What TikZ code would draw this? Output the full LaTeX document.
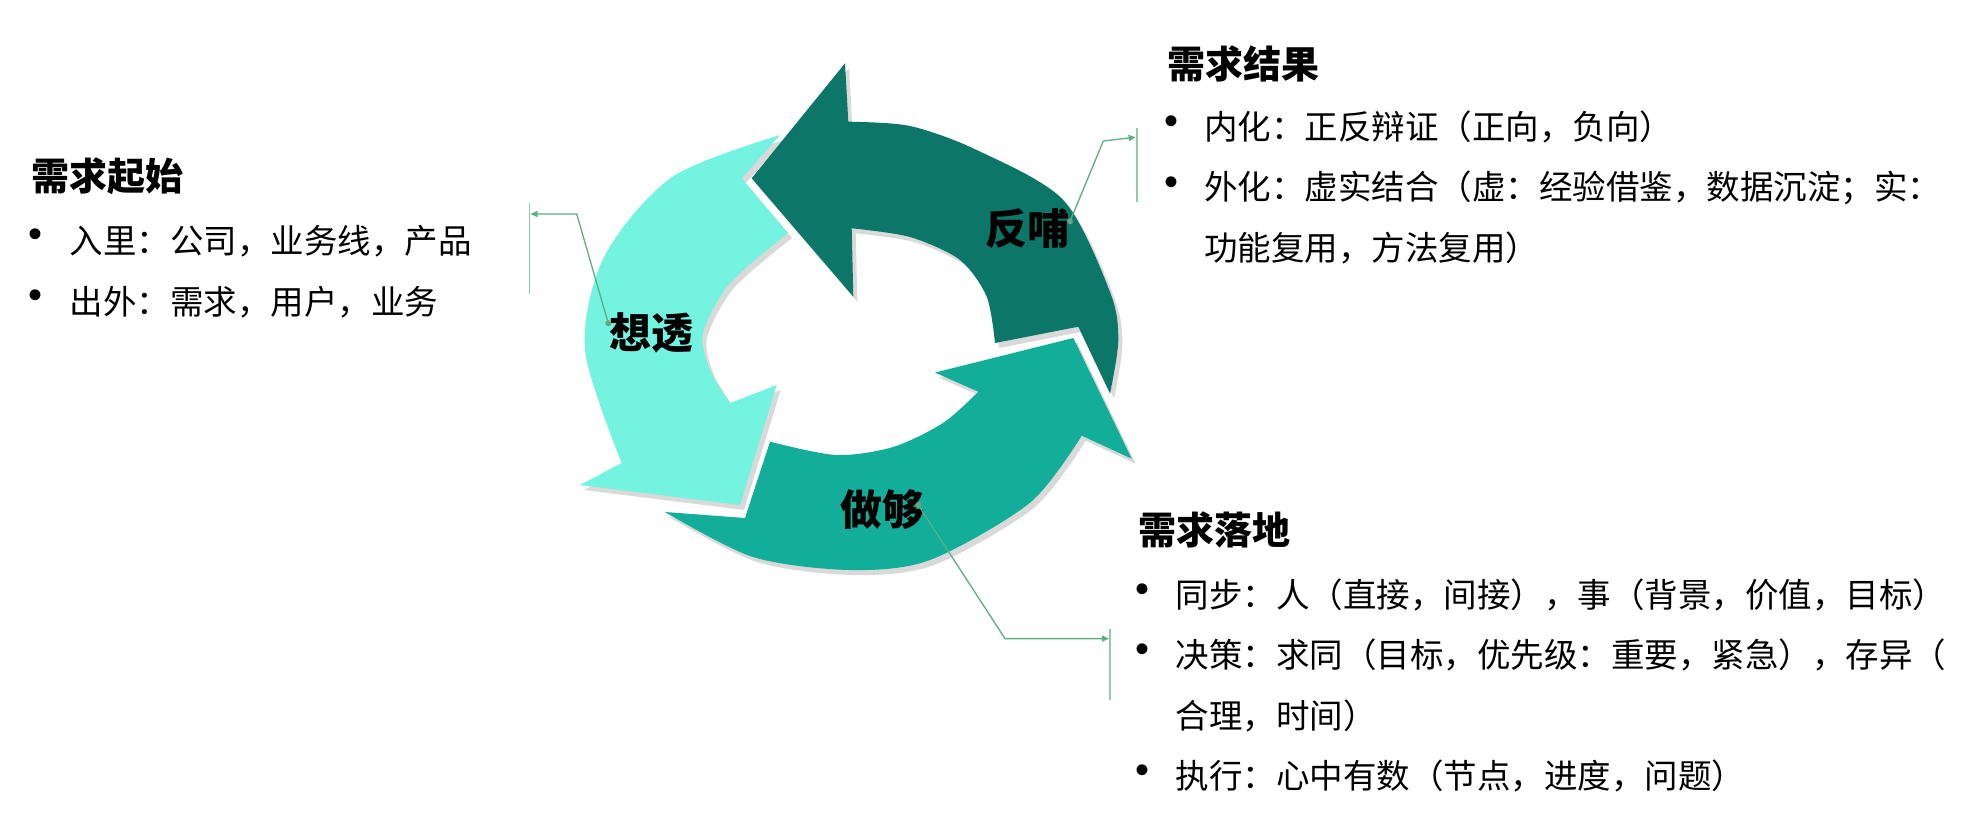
\documentclass[tikz,border=0pt]{standalone}
\usepackage{fontspec}
\setmainfont{Noto Sans CJK SC}
\newfontfamily\bulletfont{Liberation Sans}
\usetikzlibrary{arrows.meta}
\definecolor{lightc}{HTML}{74F3E1}
\definecolor{midc}{HTML}{12AE99}
\definecolor{darkc}{HTML}{0C7668}
\definecolor{shadowc}{HTML}{D9D9D9}
\definecolor{linec}{HTML}{5DAE82}
\definecolor{barc}{HTML}{8FCBA8}
\definecolor{dotc}{HTML}{6E9E84}
\newcommand\lightshape{(780,135) -- (741.7,178.3) -- (788,233)
  -- plot[smooth] coordinates {(788,233) (730,283) (703,333) (710,370) (730,403)}
  -- (776.7,385) -- (740,505) -- (580,485) -- (621.7,463)
  -- plot[smooth] coordinates {(621.7,463) (585,350) (604,257) (672,177) (780,135)} -- cycle}
\newcommand\darkshape{(845,63.3) -- (751.7,178.3) -- (853.3,296.7) -- (851.7,228.3)
  -- plot[smooth] coordinates {(851.7,228.3) (910,237) (960,260) (986.7,296.7) (995,343)}
  -- (1078.3,326.7) -- (1110,393.6)
  -- plot[smooth] coordinates {(1110,393.6) (1118.3,340) (1110,292) (1063.3,200) (976.7,150) (910,126) (848.3,121.7)} -- cycle}
\newcommand\midshape{(665,512) -- (745,518) -- (770,441.7)
  -- plot[smooth] coordinates {(770,441.7) (836,455) (893,447) (943,423) (978.3,391.7)}
  -- (935,372.6) -- (1073.3,338) -- (1131.7,458.7) -- (1081.7,435.7)
  -- plot[smooth] coordinates {(1081.7,435.7) (1030,502.7) (930,560) (850,570) (753,557) (665,512)} -- cycle}
\begin{document}
\begin{tikzpicture}[x=1pt,y=-1pt,
  cyclelabel/.style={font=\fontsize{42}{50}\selectfont\bfseries, inner sep=0pt},
  header/.style={font=\fontsize{38}{44}\selectfont\bfseries, anchor=west, inner sep=0pt},
  body/.style={font=\fontsize{33.5}{40}\selectfont, anchor=west, inner sep=0pt},
  bulletmark/.style={font=\bulletfont\fontsize{40}{44}\selectfont, inner sep=0pt},
  leader/.style={draw=linec, line width=1.3pt, -{Triangle[length=7pt,width=6pt]}},
  bar/.style={draw=barc, line width=1.6pt},
  pin/.style={circle, fill=dotc, minimum size=6pt, inner sep=0pt},
]
\useasboundingbox (0,0) rectangle (1971,836);
\fill[white] (0,0) rectangle (1971,836);
% shadows
\begin{scope}[shift={(4,5)}]
  \fill[shadowc] \lightshape;
  \fill[shadowc] \darkshape;
  \fill[shadowc] \midshape;
\end{scope}
% arrows
\fill[lightc] \lightshape;
\fill[darkc] \darkshape;
\fill[midc] \midshape;
% labels on the cycle
\node[cyclelabel] (think) at (651.5,333) {想透};
\node[cyclelabel] (feed) at (1027.5,229) {反哺};
\node[cyclelabel] (do) at (882.5,510) {做够};
% left text
\node[header] (h1) at (31,176) {需求起始};
\node[bulletmark] (b11) at (36,238) {•};
\node[body] (t11) at (69.5,241) {入里：公司，业务线，产品};
\node[bulletmark] (b12) at (36,299) {•};
\node[body] (t12) at (69.5,301.7) {出外：需求，用户，业务};
% right top text
\node[header] (h2) at (1167,64) {需求结果};
\node[bulletmark] (b21) at (1171,125) {•};
\node[body] (t21) at (1204,127) {内化：正反辩证（正向，负向）};
\node[bulletmark] (b22) at (1171,186) {•};
\node[body] (t22) at (1204,187.5) {外化：虚实结合（虚：经验借鉴，数据沉淀；实：};
\node[body] (t23) at (1204,248) {功能复用，方法复用）};
% right bottom text
\node[header] (h3) at (1138.5,530) {需求落地};
\node[bulletmark] (b31) at (1142.5,593) {•};
\node[body] (t31) at (1175.5,595) {同步：人（直接，间接），事（背景，价值，目标）};
\node[bulletmark] (b32) at (1142.5,653) {•};
\node[body] (t32) at (1175.5,655) {决策：求同（目标，优先级：重要，紧急），存异（};
\node[body] (t33) at (1175.5,716) {合理，时间）};
\node[bulletmark] (b34) at (1142.5,774) {•};
\node[body] (t34) at (1175.5,776) {执行：心中有数（节点，进度，问题）};
% leaders and bars
\coordinate (lbarT) at (529.3,203);
\coordinate (lbarB) at (529.3,294);
\draw[bar] (lbarT) -- (lbarB);
\node[pin] (ldot) at (608.3,323.3) {};
\coordinate (lbend) at (576.7,214);
\coordinate (larr) at (530.5,214);
\draw[leader] (ldot.center) -- (lbend) -- (larr);
\coordinate (rbarT) at (1136.7,127.7);
\coordinate (rbarB) at (1136.7,202.3);
\draw[bar] (rbarT) -- (rbarB);
\node[pin] (rdot) at (1070,221.4) {};
\coordinate (rbend) at (1103.3,141);
\coordinate (rarr) at (1135.7,137.2);
\draw[leader] (rdot.center) -- (rbend) -- (rarr);
\coordinate (bbarT) at (1110,629);
\coordinate (bbarB) at (1110,700);
\draw[bar] (bbarT) -- (bbarB);
\node[pin] (bdot) at (918.3,505) {};
\coordinate (bbend) at (1005,638.6);
\coordinate (barr) at (1109,638.6);
\draw[leader] (bdot.center) -- (bbend) -- (barr);
\end{tikzpicture}
\end{document}
